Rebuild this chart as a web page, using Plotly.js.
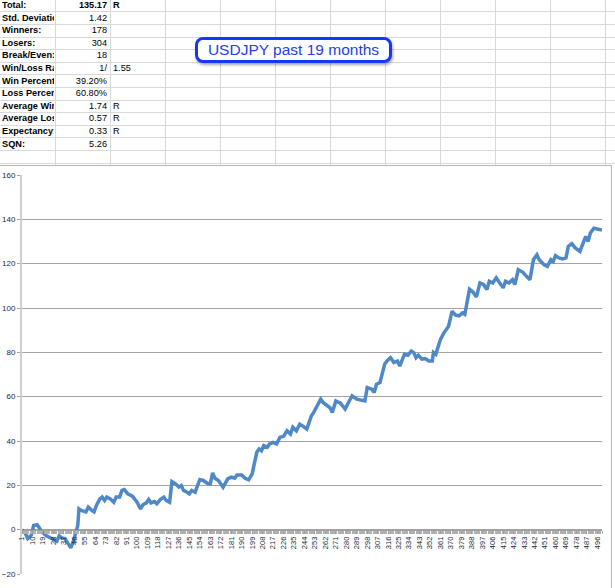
<!DOCTYPE html>
<html>
<head>
<meta charset="utf-8">
<script src="https://cdn.plot.ly/plotly-3.0.1.min.js"></script>
<style>
  html, body { margin:0; padding:0; width:615px; height:588px; overflow:hidden; background:#fff; font-family:"Liberation Sans", Arial, sans-serif; }
  .hl { position:absolute; left:0; width:615px; height:1px; background:#d9d9d9; }
  .vl { position:absolute; top:0; width:1px; height:166px; background:#d9d9d9; }
  .cell { position:absolute; height:12px; line-height:12px; font-size:9.2px; color:#000; white-space:nowrap; overflow:hidden; }
  .a { left:2px; width:52px; font-weight:bold; }
  .b { left:56px; width:51px; text-align:right; }
  .c { left:113px; width:40px; }
  #chart { position:absolute; left:0; top:166px; width:611px; height:422px; background:#fff; }
  #frame { position:absolute; left:-1px; top:165px; width:611px; height:430px; border:1px solid #b8b8b8; pointer-events:none; }
  #titlebox { position:absolute; left:195px; top:37px; width:191px; height:20px; border:3px solid #1737f0; border-radius:8px; background:#fff;
    box-shadow:1px 2px 3px rgba(0,0,0,0.35); color:#2440e6; font-size:15.5px; line-height:20px; text-align:center; font-family:"Liberation Sans", Arial, sans-serif; }
</style>
</head>
<body>
<div id="sheet"></div>
<div id="titlebox">USDJPY past 19 months</div>
<div id="chart"></div>
<div id="frame"></div>
<script>
// ---- spreadsheet stats ----
const statLabels = ["Total:", "Std. Deviation:", "Winners:", "Losers:", "Break/Even:", "Win/Loss Ratio:", "Win Percentage:", "Loss Percentage:", "Average Win:", "Average Loss:", "Expectancy:", "SQN:"];
const statValues = ["135.17", "1.42", "178", "304", "18", "1/", "39.20%", "60.80%", "1.74", "0.57", "0.33", "5.26"];
const statUnits  = ["R", "", "", "", "", "1.55", "", "", "R", "R", "R", ""];

// ---- equity curve (trade number, cumulative R) ----
const tradeNo = [1,4,6,9,11,14,16,18,22,26,29,31,33,35,38,41,43,45,47,49,50,52,56,58,61,63,65,68,70,72,74,77,80,82,85,87,89,92,96,100,103,105,108,110,112,115,117,120,123,125,128,130,133,136,138,140,143,145,147,150,152,154,157,161,163,165,167,170,174,178,181,184,186,190,193,196,199,201,203,205,207,209,212,214,217,220,223,226,229,232,234,237,240,243,246,248,250,252,255,258,260,263,266,268,271,275,279,282,285,289,293,296,298,302,304,306,309,311,313,315,318,321,324,326,330,333,336,338,340,342,345,348,351,354,355,357,359,361,364,366,368,371,374,377,380,382,384,386,389,392,395,398,401,403,406,409,412,415,417,420,423,425,428,432,435,438,441,444,446,450,453,456,458,460,463,466,469,471,474,477,481,484,486,488,490,493,496,500];
const cumR = [0,-1.8,-4,-2.5,1.9,2.2,0.8,-1,-2.8,-4,-4.8,-5.2,-2.8,-3.7,-4,-6.3,-8.2,-5.5,-1.8,1.9,9.4,8.7,8,10.2,8.7,8,10.9,13.9,14.7,13.2,14.7,13.9,12.4,14.7,14.7,17.7,18.1,16.2,15.1,12.4,9.4,11.2,12.1,13.6,12.1,12.7,11.7,13.6,14.7,13.2,12.4,21.7,20.7,19.2,19.9,17.7,16.9,16.2,17.7,16.9,19.9,22.6,22.2,20.7,20.7,25.6,23.2,22.2,19.2,22.9,23.7,23.2,24.7,24.7,23.2,22.5,25.2,30.4,34.9,36.4,35.6,37.9,37.2,38.7,39.4,38.7,41.7,42.1,44.6,43.1,46.2,44.6,47.6,46.6,45.4,48.4,51.4,52.9,55.9,58.9,57.4,56.2,55,52.9,58.1,57.1,54.4,57.5,60.4,58.9,58.6,58.1,64.1,63.4,61.9,65.6,66.4,70.9,74.6,76.1,77.6,75.4,76.1,73.8,79.1,78.7,80.6,79.9,77.6,78.7,76.9,77.2,76.1,76.1,79.9,79.1,82.8,85.8,88.8,90.3,91.8,98.6,96.8,96.5,97.8,97.1,104,108.5,107.2,105,111.3,110.6,108.3,112.1,111.3,113.6,111.3,109.1,112.1,111.3,112.8,110.6,117.3,116.1,114.3,112.8,121.8,124,121.8,119.6,118.8,121.8,121,123.6,122.6,122.1,122.6,127.8,129,127.1,125.5,130,132.3,130,133.8,136,135.6,135.17];

// build sheet
const sheet = document.getElementById('sheet');
let html = '';
for (let k = 0; k <= 12; k++) html += `<div class="hl" style="top:${(11.3 + 12.6*k).toFixed(1)}px"></div>`;
for (let k = 1; k <= 11; k++) html += `<div class="vl" style="left:${55*k}px"></div>`;
statLabels.forEach((lab, i) => {
  const top = (5 + 12.6*i - 6).toFixed(1);
  html += `<div class="cell a" style="top:${top}px">${lab}</div>`;
  html += `<div class="cell b" style="top:${top}px;${i===0?'font-weight:bold;':''}">${statValues[i]}</div>`;
  html += `<div class="cell c" style="top:${top}px;${i===0?'font-weight:bold;':''}">${statUnits[i]}</div>`;
});
sheet.innerHTML = html;

const tickFont = {family:'"Liberation Sans", Arial, sans-serif', size:8, color:'#1c1f3c'};

const trace = {
  x: tradeNo, y: cumR, type:'scatter', mode:'lines',
  line:{color:'#4f88c6', width:3.5, shape:'linear'},
  hoverinfo:'skip'
};

const layout = {
  width:611, height:422,
  margin:{l:22, r:9, t:9, b:14},
  paper_bgcolor:'#fff', plot_bgcolor:'#fff',
  showlegend:false,
  xaxis:{
    range:[1,500], anchor:'free', position:1/9,
    showgrid:false, zeroline:false,
    showline:true, linecolor:'#a0a0a0', linewidth:1,
    tickmode:'linear', tick0:1, dtick:9,
    ticks:'outside', ticklen:3, tickcolor:'#a0a0a0',
    minor:{dtick:1, tick0:1, ticks:'outside', ticklen:3, tickcolor:'#b0b0b0', tickwidth:1, showgrid:false},
    tickangle:-90, tickfont:{family:'"Liberation Sans", Arial, sans-serif', size:7.5, color:'#1c1f3c'}
  },
  yaxis:{
    range:[-20,160], dtick:20, tick0:0,
    showgrid:true, gridcolor:'#a3a3a3', gridwidth:1,
    zeroline:false,
    showline:true, linecolor:'#cfcfcf', linewidth:2,
    ticks:'outside', ticklen:3, tickcolor:'#a3a3a3',
    ticklabelstandoff:0,
    tickfont:tickFont
  }
};

Plotly.newPlot('chart', [trace], layout, {staticPlot:true, displayModeBar:false});
</script>
</body>
</html>
